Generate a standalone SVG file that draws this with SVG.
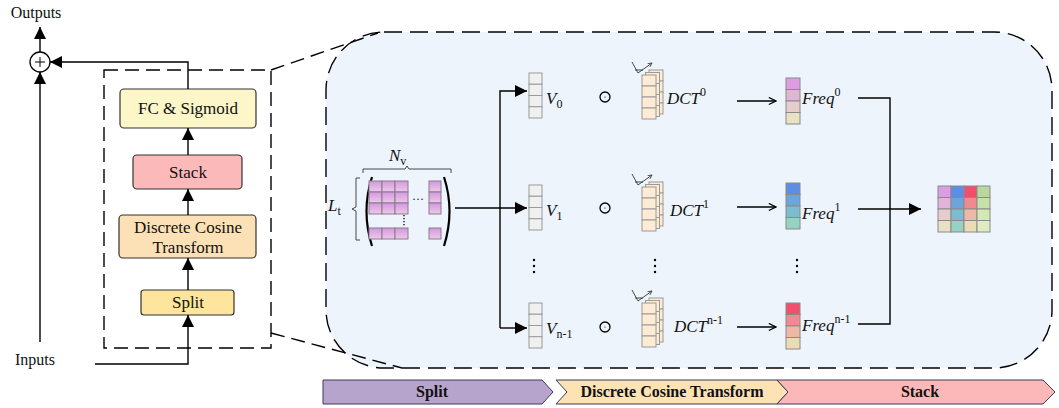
<svg xmlns="http://www.w3.org/2000/svg" width="1059" height="408" viewBox="0 0 1059 408">
<style>
text{font-family:"Liberation Serif","Times New Roman",serif;fill:#111}
.lbl{font-size:17px;text-anchor:middle}
.io{font-size:16px;text-anchor:middle}
.it{font-style:italic;font-size:17px}
.sub{font-style:normal;font-size:12px}
.bar{font-size:16px;font-weight:bold;text-anchor:middle}
.box{stroke:#333;stroke-width:1.2}
.ln{fill:none;stroke:#000;stroke-width:1.4}
.dash{fill:none;stroke:#000;stroke-width:1.4;stroke-dasharray:14 7}
.vc{fill:#f0f0f0;stroke:#9a9a9a;stroke-width:1}
.dc{fill:#fdebd3;stroke:#9a9a9a;stroke-width:1}
.mc{fill:url(#mg);stroke:#8a7a8a;stroke-width:1}
.cell{stroke:#8a8a8a;stroke-width:1}
.thin{fill:none;stroke:#333;stroke-width:0.9}
</style>
<defs>
<marker id="ah2" viewBox="0 0 10 10" refX="10" refY="5" markerWidth="12" markerHeight="12" markerUnits="userSpaceOnUse" orient="auto"><path d="M0,0 L10,5 L0,10 z" fill="#000"/></marker>
<marker id="oh" viewBox="0 0 10 10" refX="9" refY="5" markerWidth="9" markerHeight="9" markerUnits="userSpaceOnUse" orient="auto"><path d="M1,1 L9,5 L1,9" fill="none" stroke="#000" stroke-width="1.3"/></marker>
<marker id="sh" viewBox="0 0 10 10" refX="9" refY="5" markerWidth="5" markerHeight="5" markerUnits="userSpaceOnUse" orient="auto"><path d="M1,1 L9,5 L1,9" fill="none" stroke="#333" stroke-width="1.5"/></marker>
<linearGradient id="mg" x1="0" y1="0" x2="0" y2="1"><stop offset="0" stop-color="#d498de"/><stop offset="1" stop-color="#ecc9ea"/></linearGradient>
<g id="vec">
<rect class="vc" x="0" y="0" width="13" height="11.25"/>
<rect class="vc" x="0" y="11.25" width="13" height="11.25"/>
<rect class="vc" x="0" y="22.5" width="13" height="11.25"/>
<rect class="vc" x="0" y="33.75" width="13" height="11.25"/>
</g>
<g id="card">
<rect class="dc" x="0" y="0" width="14" height="11"/>
<rect class="dc" x="0" y="11" width="14" height="11"/>
<rect class="dc" x="0" y="22" width="14" height="11"/>
<rect class="dc" x="0" y="33" width="14" height="11"/>
</g>
<g id="dct">
<use href="#card" x="7" y="-5"/>
<use href="#card" x="3.5" y="-2.5"/>
<use href="#card" x="0" y="0"/>
<path class="thin" d="M-10,-13 L-4,-2 M-7,-5 L1,-5"/>
<path class="thin" d="M-4,-2 L10,-12" marker-end="url(#sh)"/>
</g>
<g id="odot"><circle cx="0" cy="0" r="5" fill="none" stroke="#000" stroke-width="1.3"/><circle cx="0" cy="0" r="0.6" fill="#000"/></g>
</defs>

<rect width="1059" height="408" fill="#fff"/>

<g id="zoom-region">
<rect x="326" y="32" width="726" height="336" rx="58" ry="58" fill="#eef4fb" stroke="#000" stroke-width="1.4" stroke-dasharray="18 8"/>
<path class="dash" d="M271,70 L378,33"/>
<path class="dash" d="M271,333 L402,368"/>
</g>

<g id="module-box">
<rect class="dash" x="104" y="70" width="167" height="278"/>
</g>

<g id="outputs"><text class="io" x="36" y="18">Outputs</text></g>
<g id="inputs"><text class="io" x="35" y="365">Inputs</text></g>
<g id="sum">
<circle cx="40" cy="62" r="10" fill="#fff" stroke="#000" stroke-width="1.3"/>
<path d="M35,62 H45 M40,57 V67" stroke="#000" stroke-width="1"/>
</g>

<g id="fc">
<rect class="box" x="120" y="89" width="136" height="39" rx="4" fill="#fdf6c8"/>
<text class="lbl" x="188" y="114">FC &amp; Sigmoid</text>
</g>
<g id="stack">
<rect class="box" x="133" y="155" width="109" height="34" rx="4" fill="#fcb9b9"/>
<text class="lbl" x="188" y="178">Stack</text>
</g>
<g id="dct-box">
<rect class="box" x="119" y="215" width="137" height="43" rx="4" fill="#fde1b6"/>
<text class="lbl" x="188" y="233">Discrete Cosine</text>
<text class="lbl" x="188" y="253">Transform</text>
</g>
<g id="split">
<rect class="box" x="141" y="290" width="93" height="25" rx="3" fill="#fde59e"/>
<text class="lbl" x="188" y="308">Split</text>
</g>

<g id="matrix">
<text class="it" x="389" y="161">N<tspan class="sub" dy="4">v</tspan></text>
<path class="thin" d="M363,173 V169 H405 L407,166 L409,169 H451 V173"/>
<text class="it" x="328" y="211">L<tspan class="sub" dy="4">t</tspan></text>
<path class="thin" d="M360,178 H356 V207 L352,209 L356,211 V240 H360"/>
<path d="M372,177 Q361,211 372,246" fill="none" stroke="#000" stroke-width="2.2"/>
<path d="M444,177 Q455,211 444,246" fill="none" stroke="#000" stroke-width="2.2"/>
<rect class="mc" x="369" y="181" width="13" height="11"/>
<rect class="mc" x="382" y="181" width="13" height="11"/>
<rect class="mc" x="395" y="181" width="13" height="11"/>
<rect class="mc" x="369" y="192" width="13" height="11"/>
<rect class="mc" x="382" y="192" width="13" height="11"/>
<rect class="mc" x="395" y="192" width="13" height="11"/>
<rect class="mc" x="369" y="203" width="13" height="11"/>
<rect class="mc" x="382" y="203" width="13" height="11"/>
<rect class="mc" x="395" y="203" width="13" height="11"/>
<rect class="mc" x="429" y="181" width="12" height="11"/>
<rect class="mc" x="429" y="192" width="12" height="11"/>
<rect class="mc" x="429" y="203" width="12" height="11"/>
<rect class="mc" x="369" y="228" width="13" height="11"/>
<rect class="mc" x="382" y="228" width="13" height="11"/>
<rect class="mc" x="395" y="228" width="13" height="11"/>
<rect class="mc" x="429" y="228" width="12" height="11"/>
<text x="412" y="203" font-size="12">···</text>
<path d="M404,215 V226" stroke="#000" stroke-width="1.3" stroke-dasharray="1.3 1.7"/>
</g>

<g id="v0"><use href="#vec" x="529" y="73"/><text class="it" x="546" y="104">V<tspan class="sub" dy="4">0</tspan></text></g>
<g id="v1"><use href="#vec" x="529" y="185"/><text class="it" x="546" y="216">V<tspan class="sub" dy="4">1</tspan></text></g>
<g id="vn"><use href="#vec" x="529" y="303"/><text class="it" x="546" y="334">V<tspan class="sub" dy="4">n-1</tspan></text></g>

<g id="odots">
<use href="#odot" x="605" y="97"/>
<use href="#odot" x="605" y="208"/>
<use href="#odot" x="605" y="327"/>
</g>

<g id="dct0"><use href="#dct" x="642" y="75"/><text class="it" x="667" y="104">DCT<tspan class="sub" dy="-8">0</tspan></text></g>
<g id="dct1"><use href="#dct" x="642" y="187"/><text class="it" x="670" y="216">DCT<tspan class="sub" dy="-8">1</tspan></text></g>
<g id="dctn"><use href="#dct" x="642" y="303"/><text class="it" x="674" y="332">DCT<tspan class="sub" dy="-8">n-1</tspan></text></g>

<g id="freq0">
<rect class="cell" x="786" y="78" width="14" height="11.5" fill="#dc9ee0"/>
<rect class="cell" x="786" y="89.5" width="14" height="11.5" fill="#e2b4d8"/>
<rect class="cell" x="786" y="101" width="14" height="11.5" fill="#e6cccc"/>
<rect class="cell" x="786" y="112.5" width="14" height="11.5" fill="#e8e2c2"/>
<text class="it" x="802" y="104">Freq<tspan class="sub" dy="-8">0</tspan></text>
</g>
<g id="freq1">
<rect class="cell" x="786" y="183" width="14" height="11.5" fill="#5b8ee6"/>
<rect class="cell" x="786" y="194.5" width="14" height="11.5" fill="#6aa6dc"/>
<rect class="cell" x="786" y="206" width="14" height="11.5" fill="#7cbccf"/>
<rect class="cell" x="786" y="217.5" width="14" height="11.5" fill="#96d2c4"/>
<text class="it" x="802" y="219">Freq<tspan class="sub" dy="-8">1</tspan></text>
</g>
<g id="freqn">
<rect class="cell" x="786" y="303" width="14" height="11.5" fill="#f0506e"/>
<rect class="cell" x="786" y="314.5" width="14" height="11.5" fill="#f08a90"/>
<rect class="cell" x="786" y="326" width="14" height="11.5" fill="#eeb8a6"/>
<rect class="cell" x="786" y="337.5" width="14" height="11.5" fill="#ecdcb4"/>
<text class="it" x="802" y="331">Freq<tspan class="sub" dy="-8">n-1</tspan></text>
</g>

<g id="stacked">
<rect class="cell" x="938" y="186" width="13" height="11.5" fill="#dc9ee0"/>
<rect class="cell" x="938" y="197.5" width="13" height="11.5" fill="#e2b4d8"/>
<rect class="cell" x="938" y="209" width="13" height="11.5" fill="#e6cccc"/>
<rect class="cell" x="938" y="220.5" width="13" height="11.5" fill="#e8e2c2"/>
<rect class="cell" x="951" y="186" width="13" height="11.5" fill="#5b8ee6"/>
<rect class="cell" x="951" y="197.5" width="13" height="11.5" fill="#6aa6dc"/>
<rect class="cell" x="951" y="209" width="13" height="11.5" fill="#7cbccf"/>
<rect class="cell" x="951" y="220.5" width="13" height="11.5" fill="#96d2c4"/>
<rect class="cell" x="964" y="186" width="13" height="11.5" fill="#f0506e"/>
<rect class="cell" x="964" y="197.5" width="13" height="11.5" fill="#f08a90"/>
<rect class="cell" x="964" y="209" width="13" height="11.5" fill="#eeb8a6"/>
<rect class="cell" x="964" y="220.5" width="13" height="11.5" fill="#ecdcb4"/>
<rect class="cell" x="977" y="186" width="13" height="11.5" fill="#b8d8a0"/>
<rect class="cell" x="977" y="197.5" width="13" height="11.5" fill="#c8e0aa"/>
<rect class="cell" x="977" y="209" width="13" height="11.5" fill="#d4e8b4"/>
<rect class="cell" x="977" y="220.5" width="13" height="11.5" fill="#e0ecc0"/>
</g>

<g id="vdots" fill="#000">
<circle cx="534" cy="260" r="1.2"/><circle cx="534" cy="266" r="1.2"/><circle cx="534" cy="272" r="1.2"/>
<circle cx="655" cy="260" r="1.2"/><circle cx="655" cy="266" r="1.2"/><circle cx="655" cy="272" r="1.2"/>
<circle cx="797" cy="260" r="1.2"/><circle cx="797" cy="266" r="1.2"/><circle cx="797" cy="272" r="1.2"/>
</g>

<g id="connectors">
<path class="ln" d="M40,52 V27" marker-end="url(#ah2)"/>
<path class="ln" d="M40,342 V72" marker-end="url(#ah2)"/>
<path class="ln" d="M188,89 V62 H50" marker-end="url(#ah2)"/>
<path class="ln" d="M95,364 H188 V315" marker-end="url(#ah2)"/>
<path class="ln" d="M188,290 V258" marker-end="url(#ah2)"/>
<path class="ln" d="M188,215 V189" marker-end="url(#ah2)"/>
<path class="ln" d="M188,155 V128" marker-end="url(#ah2)"/>
<path class="ln" d="M455,208 H527" marker-end="url(#ah2)"/>
<path class="ln" d="M500,328 V91 H527" marker-end="url(#ah2)"/>
<path class="ln" d="M500,328 H527" marker-end="url(#ah2)"/>
<path class="ln" d="M737,101 H776" marker-end="url(#oh)"/>
<path class="ln" d="M737,207 H776" marker-end="url(#oh)"/>
<path class="ln" d="M737,327 H776" marker-end="url(#oh)"/>
<path class="ln" d="M858,98 H890 V324 H858"/>
<path class="ln" d="M858,209 H921" marker-end="url(#ah2)"/>
</g>

<g id="banner">
<path d="M323,380 H542 L553,392 L542,404 H323 Z" fill="#b6a4cc" stroke="#3a3a5a" stroke-width="1"/>
<text class="bar" x="432" y="397">Split</text>
<path d="M556,380 H777 L788,392 L777,404 H556 L567,392 Z" fill="#fde3b3" stroke="#3a3a5a" stroke-width="1"/>
<text class="bar" x="672" y="397">Discrete Cosine Transform</text>
<path d="M777,380 H1043 L1055,392 L1043,404 H777 L788,392 Z" fill="#fcb8b8" stroke="#3a3a5a" stroke-width="1"/>
<text class="bar" x="920" y="397">Stack</text>
</g>
</svg>
